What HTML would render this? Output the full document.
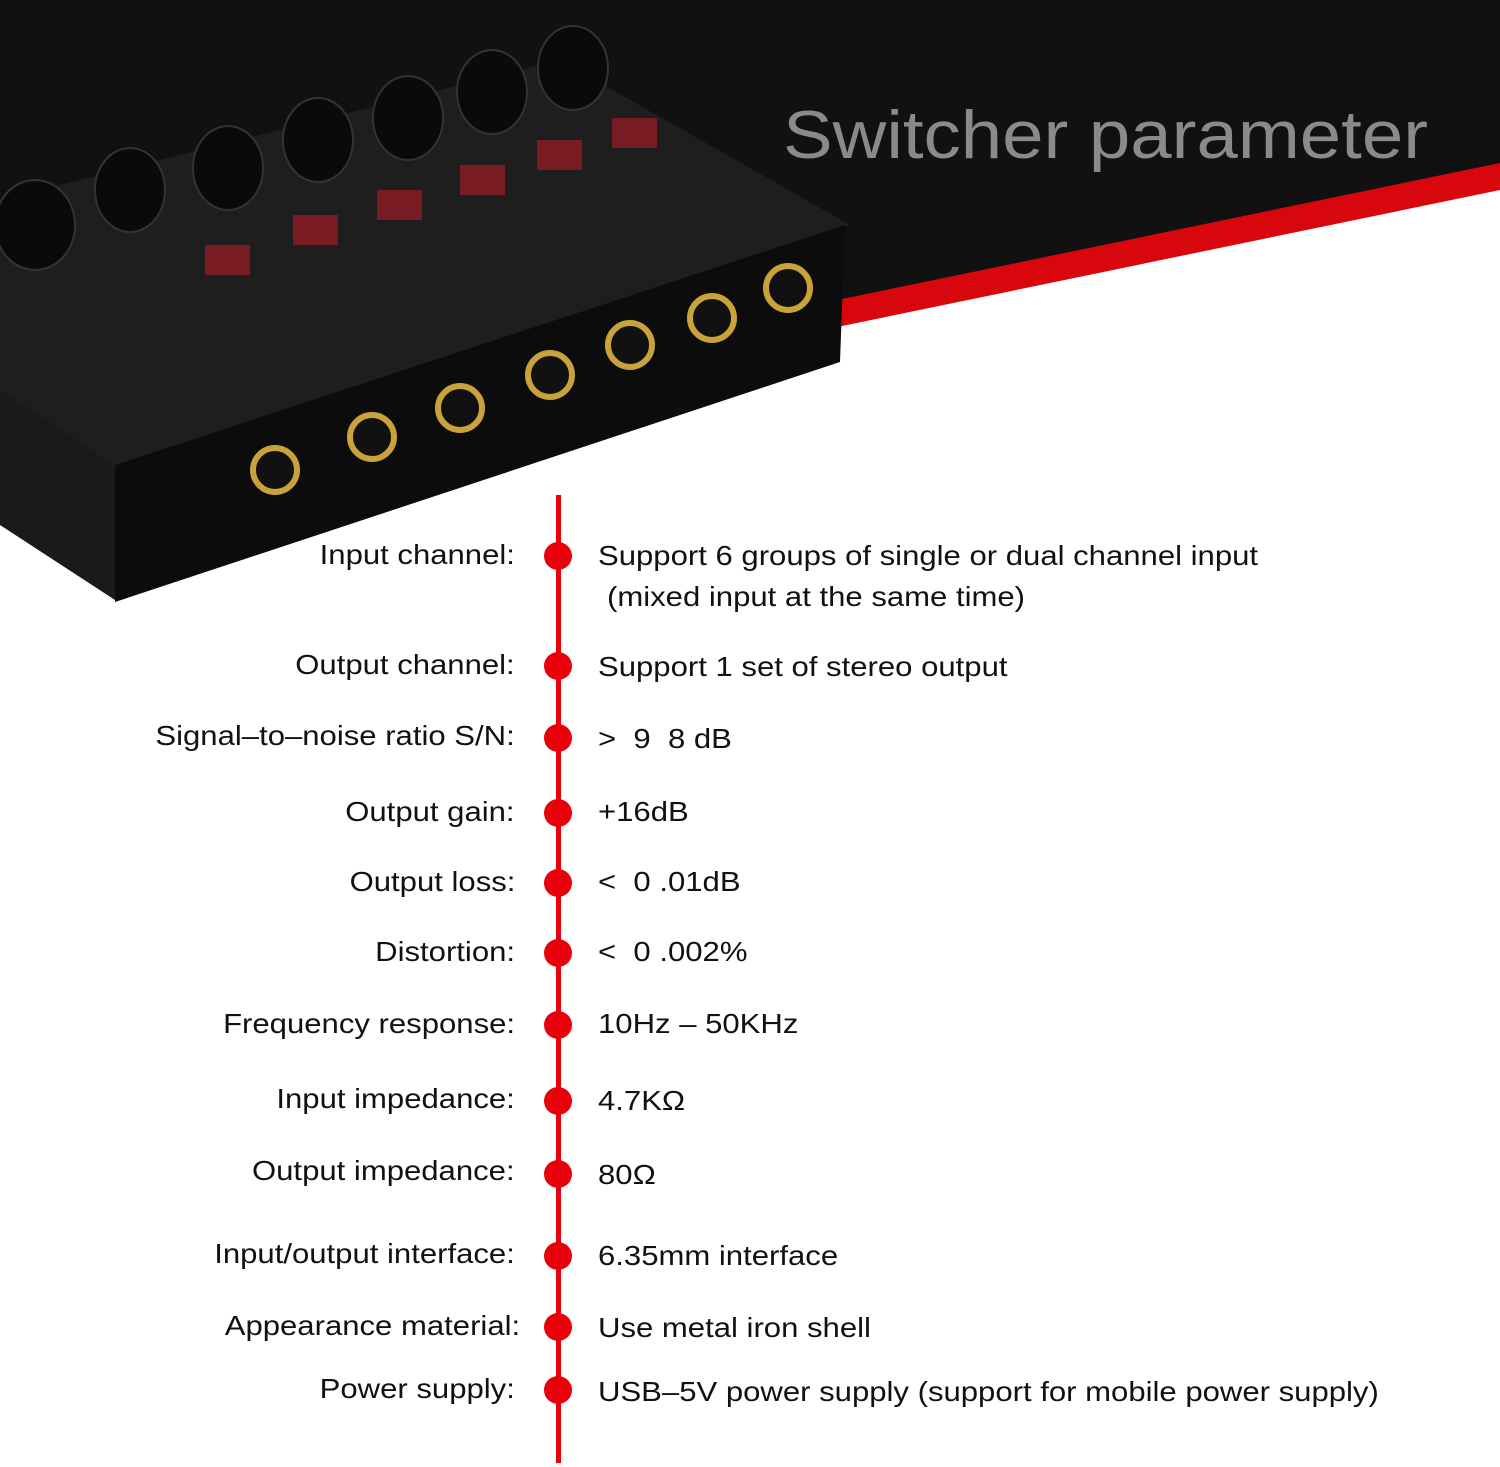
<!DOCTYPE html>
<html><head><meta charset="utf-8"><style>
html,body{margin:0;padding:0}
body{width:1500px;height:1467px;position:relative;background:#fff;overflow:hidden;font-family:"Liberation Sans",sans-serif}
svg{position:absolute;left:0;top:0}
.l{position:absolute;right:985px;font-size:28px;color:#111;white-space:nowrap;transform:translateY(-50%) scaleX(1.11);transform-origin:right center}
.v{position:absolute;left:598px;font-size:28px;color:#111;white-space:nowrap;transform:translateY(-50%) scaleX(1.11);transform-origin:left center}
.d{position:absolute;left:544px;width:28px;height:28px;border-radius:50%;background:#e8000b;transform:translateY(-50%)}
</style></head><body>
<svg width="1500" height="1467">
<polygon points="0,0 1500,0 1500,165 0,475" fill="#111"/>
<polygon points="1500,163 1500,190 0,500 0,473" fill="#d8060d"/>
<polygon points="0,390 115,465 115,600 0,525" fill="#1a1a1a"/>
<polygon points="0,200 560,60 850,225 115,465 0,390" fill="#1e1e1e"/>
<polygon points="115,465 845,225 840,362 115,602" fill="#0c0c0c"/>
<g fill="#0a0a0a" stroke="#333" stroke-width="2">
<ellipse cx="35" cy="225" rx="40" ry="45"/>
<ellipse cx="130" cy="190" rx="35" ry="42"/>
<ellipse cx="228" cy="168" rx="35" ry="42"/>
<ellipse cx="318" cy="140" rx="35" ry="42"/>
<ellipse cx="408" cy="118" rx="35" ry="42"/>
<ellipse cx="492" cy="92" rx="35" ry="42"/>
<ellipse cx="573" cy="68" rx="35" ry="42"/>
</g>
<g fill="#7a1a22">
<rect x="205" y="245" width="45" height="30"/><rect x="293" y="215" width="45" height="30"/>
<rect x="377" y="190" width="45" height="30"/><rect x="460" y="165" width="45" height="30"/>
<rect x="537" y="140" width="45" height="30"/><rect x="612" y="118" width="45" height="30"/>
</g>
<g fill="#111" stroke="#c9a23a" stroke-width="6">
<circle cx="275" cy="470" r="22"/><circle cx="372" cy="437" r="22"/><circle cx="460" cy="408" r="22"/>
<circle cx="550" cy="375" r="22"/><circle cx="630" cy="345" r="22"/><circle cx="712" cy="318" r="22"/><circle cx="788" cy="288" r="22"/>
</g>
<text x="783" y="158" font-family="Liberation Sans" font-size="68" fill="#8a8a8a" textLength="645" lengthAdjust="spacingAndGlyphs">Switcher parameter</text>
<rect x="556" y="495" width="5" height="968" fill="#e8000b"/>
</svg>
<div class="l" style="top:555px">Input channel:</div><div class="d" style="top:556px"></div><div class="v" style="top:556px">Support 6 groups of single or dual channel input</div><div class="v" style="top:597px;left:607px">(mixed input at the same time)</div>
<div class="l" style="top:665px">Output channel:</div><div class="d" style="top:666px"></div><div class="v" style="top:667px">Support 1 set of stereo output</div>
<div class="l" style="top:736px">Signal–to–noise ratio S/N:</div><div class="d" style="top:738px"></div><div class="v" style="top:739px">&gt;&nbsp; 9&nbsp; 8 dB</div>
<div class="l" style="top:812px">Output gain:</div><div class="d" style="top:813px"></div><div class="v" style="top:812px">+16dB</div>
<div class="l" style="top:882px">Output loss:</div><div class="d" style="top:883px"></div><div class="v" style="top:882px">&lt;&nbsp; 0 .01dB</div>
<div class="l" style="top:952px">Distortion:</div><div class="d" style="top:953px"></div><div class="v" style="top:952px">&lt;&nbsp; 0 .002%</div>
<div class="l" style="top:1024px">Frequency response:</div><div class="d" style="top:1025px"></div><div class="v" style="top:1024px">10Hz – 50KHz</div>
<div class="l" style="top:1099px">Input impedance:</div><div class="d" style="top:1101px"></div><div class="v" style="top:1101px">4.7KΩ</div>
<div class="l" style="top:1171px">Output impedance:</div><div class="d" style="top:1174px"></div><div class="v" style="top:1175px">80Ω</div>
<div class="l" style="top:1254px">Input/output interface:</div><div class="d" style="top:1256px"></div><div class="v" style="top:1256px">6.35mm interface</div>
<div class="l" style="top:1326px;right:980px">Appearance material:</div><div class="d" style="top:1327px"></div><div class="v" style="top:1328px">Use metal iron shell</div>
<div class="l" style="top:1389px">Power supply:</div><div class="d" style="top:1390px"></div><div class="v" style="top:1392px">USB–5V power supply (support for mobile power supply)</div>
</body></html>
